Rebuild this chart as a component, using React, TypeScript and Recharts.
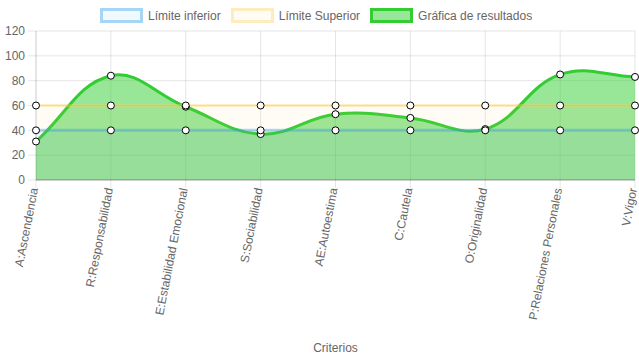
import { ComposedChart, Area, XAxis, YAxis, CartesianGrid } from 'recharts';

const categories = [
  'A:Ascendencia',
  'R:Responsabilidad',
  'E:Estabilidad Emocional',
  'S:Sociabilidad',
  'AE:Autoestima',
  'C:Cautela',
  'O:Originalidad',
  'P:Relaciones Personales',
  'V:Vigor',
];
const lowerLimit = [40, 40, 40, 40, 40, 40, 40, 40, 40];
const upperLimit = [60, 60, 60, 60, 60, 60, 60, 60, 60];
const results = [31, 84, 59, 37, 53, 50, 41, 85, 83];
const yTicks = [0, 20, 40, 60, 80, 100, 120];

const FONT = '"Liberation Sans", Arial, Helvetica, sans-serif';

const data = categories.map((name, i) => ({
  name,
  lower: lowerLimit[i],
  upper: upperLimit[i],
  results: results[i],
}));

// chart.js style spline (tension 0.4) as a d3 curve factory
function splineCurve(context: any) {
  const t = 0.4;
  let pts: number[][] = [];
  let line = NaN;
  return {
    areaStart() {
      line = 0;
    },
    areaEnd() {
      line = NaN;
    },
    lineStart() {
      pts = [];
    },
    lineEnd() {
      const n = pts.length;
      if (n) {
        const cps = pts.map((cur, i) => {
          const prev = pts[i - 1] || cur;
          const next = pts[i + 1] || cur;
          const d01 = Math.hypot(cur[0] - prev[0], cur[1] - prev[1]);
          const d12 = Math.hypot(next[0] - cur[0], next[1] - cur[1]);
          let s01 = d01 / (d01 + d12);
          let s12 = d12 / (d01 + d12);
          if (!isFinite(s01)) s01 = 0;
          if (!isFinite(s12)) s12 = 0;
          const fa = t * s01;
          const fb = t * s12;
          return {
            inX: cur[0] - fa * (next[0] - prev[0]),
            inY: cur[1] - fa * (next[1] - prev[1]),
            outX: cur[0] + fb * (next[0] - prev[0]),
            outY: cur[1] + fb * (next[1] - prev[1]),
          };
        });
        if (line) context.lineTo(pts[0][0], pts[0][1]);
        else context.moveTo(pts[0][0], pts[0][1]);
        for (let i = 1; i < n; i++) {
          context.bezierCurveTo(cps[i - 1].outX, cps[i - 1].outY, cps[i].inX, cps[i].inY, pts[i][0], pts[i][1]);
        }
      }
      if (line || (line !== 0 && n === 1)) context.closePath();
      line = 1 - line;
    },
    point(x: number, y: number) {
      pts.push([+x, +y]);
    },
  };
}

function XTick(props: any) {
  const { x, y, payload } = props;
  return (
    <g transform={`translate(${x - 2},${y - 2})`}>
      <text
        transform="rotate(-79)"
        textAnchor="end"
        dy="0.35em"
        fontSize={12}
        fill="#666"
        fontFamily={FONT}
      >
        {payload.value}
      </text>
    </g>
  );
}

const legendItems = [
  { label: 'Límite inferior', border: 'rgba(54,162,235,0.4)', fill: 'rgba(54,162,235,0.07)' },
  { label: 'Límite Superior', border: 'rgba(255,205,86,0.35)', fill: 'rgba(255,205,86,0.06)' },
  { label: 'Gráfica de resultados', border: '#33cc33', fill: 'rgba(50,205,50,0.5)' },
];

const dot = { r: 3.5, fill: '#fff', stroke: '#000', strokeWidth: 1 };

export default function App() {
  return (
    <div style={{ position: 'fixed', left: 0, top: 0, width: 639, height: 360, background: '#fff' }}>
      <div
        style={{
          position: 'absolute',
          top: 8,
          left: 100,
          display: 'flex',
          alignItems: 'center',
          fontFamily: FONT,
          fontSize: 12,
          color: '#666',
        }}
      >
        {legendItems.map((item) => (
          <div key={item.label} style={{ display: 'flex', alignItems: 'center', marginRight: 10 }}>
            <span
              style={{
                display: 'inline-block',
                width: 37,
                height: 9,
                border: `3px solid ${item.border}`,
                background: item.fill,
                marginRight: 5,
              }}
            />
            <span>{item.label}</span>
          </div>
        ))}
      </div>
      <ComposedChart width={639} height={360} data={data} margin={{ top: 31, right: 4, left: 0, bottom: 0 }}>
        <CartesianGrid stroke="rgba(0,0,0,0.1)" />
        <XAxis
          dataKey="name"
          height={180}
          tick={<XTick />}
          tickSize={8}
          tickMargin={2}
          interval={0}
          tickLine={{ stroke: 'rgba(0,0,0,0.1)' }}
          axisLine={{ stroke: 'rgba(0,0,0,0.3)' }}
          label={{ value: 'Criterios', position: 'insideBottom', offset: 8, fill: '#666', fontSize: 12, fontFamily: FONT }}
        />
        <YAxis
          width={36}
          domain={[0, 120]}
          ticks={yTicks}
          tickSize={8}
          tickMargin={3}
          tick={{ fill: '#666', fontSize: 12, fontFamily: FONT }}
          tickLine={{ stroke: 'rgba(0,0,0,0.1)' }}
          axisLine={{ stroke: 'rgba(0,0,0,0.1)' }}
        />
        <Area
          dataKey="results"
          type={splineCurve as any}
          stroke="#33cc33"
          strokeWidth={3}
          fill="rgba(50,205,50,0.5)"
          fillOpacity={1}
          dot={dot}
          activeDot={false}
          isAnimationActive={false}
        />
        <Area
          dataKey="upper"
          type="linear"
          stroke="rgba(255,205,86,0.35)"
          strokeWidth={3}
          fill="rgba(255,205,86,0.06)"
          fillOpacity={1}
          dot={dot}
          activeDot={false}
          isAnimationActive={false}
        />
        <Area
          dataKey="lower"
          type="linear"
          stroke="rgba(54,162,235,0.4)"
          strokeWidth={3}
          fill="rgba(54,162,235,0.07)"
          fillOpacity={1}
          dot={dot}
          activeDot={false}
          isAnimationActive={false}
        />
      </ComposedChart>
    </div>
  );
}
